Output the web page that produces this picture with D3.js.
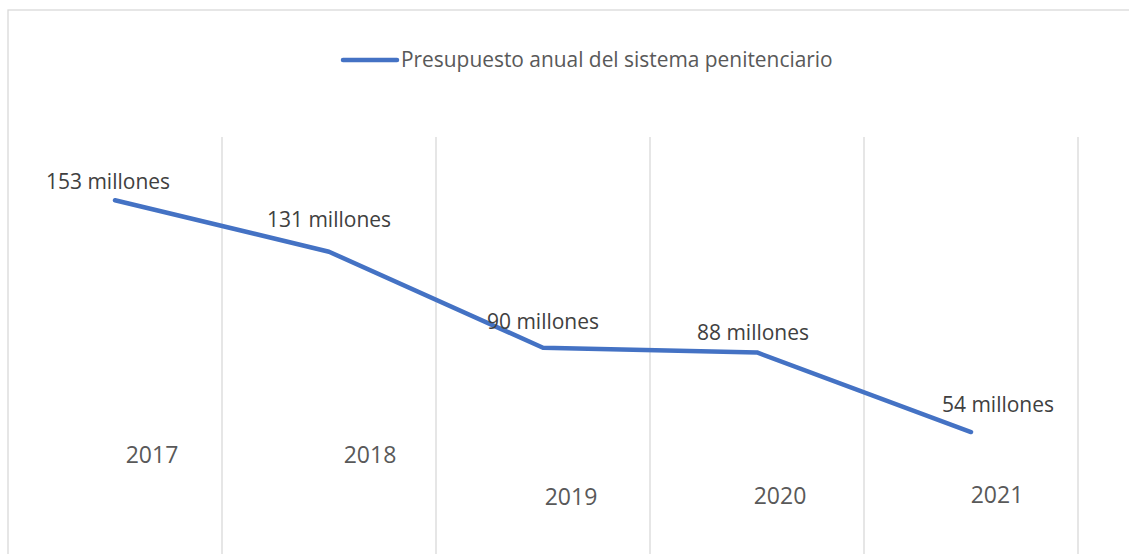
<!DOCTYPE html>
<html>
<head>
<meta charset="utf-8">
<script src="https://cdn.jsdelivr.net/npm/d3@7"></script>
<style>
  body { margin: 0; background: #fff; }
  svg { display: block; font-family: "Open Sans", sans-serif; }
</style>
</head>
<body>
<svg id="chart" width="1129" height="554"></svg>
<script>
// data
const years = ["2017", "2018", "2019", "2020", "2021"];
const budget = [153, 131, 90, 88, 54];
const valueLabels = ["153 millones", "131 millones", "90 millones", "88 millones", "54 millones"];
const seriesName = "Presupuesto anual del sistema penitenciario";

const width = 1129, height = 554;
const plot = {left: 8, right: 1078, top: 137, bottom: 558.5};

// label placement, relative to each point
const valueLabelOffset = [[-7, -19], [0, -32], [0, -26], [-4, -20], [27, -27]];
const yearLabelPos = [[37, 455], [41, 455], [28, 497], [23, 495.5], [26, 495]];

const svg = d3.select("#chart");

const x = d3.scaleBand().domain(years).range([plot.left, plot.right]);
const y = d3.scaleLinear().domain([0, 180]).range([plot.bottom, plot.top]);
const cx = d => x(d) + x.bandwidth() / 2;

// chart border (cropped on right and bottom)
svg.append("rect")
  .attr("x", 8).attr("y", 10)
  .attr("width", 1200).attr("height", 700)
  .attr("fill", "none")
  .attr("stroke", "#d9d9d9")
  .attr("stroke-width", 1.3);

// vertical gridlines at the category edges
svg.append("g")
  .selectAll("line")
  .data(years.map(d => x(d) + x.bandwidth()))
  .join("line")
  .attr("x1", d => d).attr("x2", d => d)
  .attr("y1", plot.top).attr("y2", height)
  .attr("stroke", "#d9d9d9")
  .attr("stroke-width", 1.3);

// legend
const legend = svg.append("g").attr("transform", "translate(343,60)");
legend.append("line")
  .attr("x1", 0).attr("x2", 54)
  .attr("stroke", "#4472c4")
  .attr("stroke-width", 4.5)
  .attr("stroke-linecap", "round");
legend.append("text")
  .attr("x", 58).attr("dy", "0.35em")
  .attr("fill", "#595959")
  .attr("font-size", 20.9)
  .text(seriesName);

// the line
const line = d3.line()
  .x((d, i) => cx(years[i]))
  .y(d => y(d));

svg.append("path")
  .datum(budget)
  .attr("d", line)
  .attr("fill", "none")
  .attr("stroke", "#4472c4")
  .attr("stroke-width", 4.5)
  .attr("stroke-linecap", "round")
  .attr("stroke-linejoin", "round");

// value labels
svg.append("g")
  .selectAll("text")
  .data(budget)
  .join("text")
  .attr("x", (d, i) => cx(years[i]) + valueLabelOffset[i][0])
  .attr("y", (d, i) => y(d) + valueLabelOffset[i][1])
  .attr("dy", "0.35em")
  .attr("text-anchor", "middle")
  .attr("fill", "#404040")
  .attr("font-size", 21)
  .text((d, i) => valueLabels[i]);

// year labels
svg.append("g")
  .selectAll("text")
  .data(years)
  .join("text")
  .attr("x", (d, i) => cx(d) + yearLabelPos[i][0])
  .attr("y", (d, i) => yearLabelPos[i][1])
  .attr("dy", "0.35em")
  .attr("text-anchor", "middle")
  .attr("fill", "#595959")
  .attr("font-size", 23)
  .text(d => d);
</script>
</body>
</html>
